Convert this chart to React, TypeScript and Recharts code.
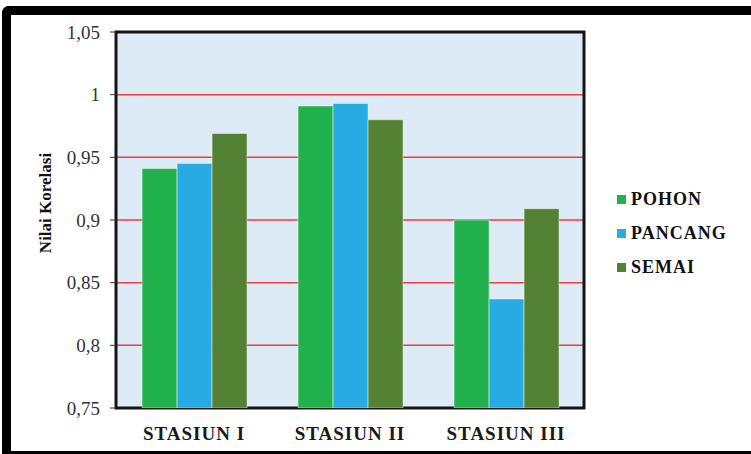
import React from 'react';
import { BarChart, Bar, XAxis, YAxis, CartesianGrid, Legend, ReferenceArea } from 'recharts';

const categories = ['STASIUN I', 'STASIUN II', 'STASIUN III'];
const pohon = [0.941, 0.991, 0.9];
const pancang = [0.945, 0.993, 0.837];
const semai = [0.969, 0.98, 0.909];
const yTicks = [0.75, 0.8, 0.85, 0.9, 0.95, 1, 1.05];
const seriesNames = ['POHON', 'PANCANG', 'SEMAI'];
const seriesColors = ['#21B14D', '#27ABE2', '#548235'];

const data = categories.map((c, i) => ({ name: c, POHON: pohon[i], PANCANG: pancang[i], SEMAI: semai[i] }));

const fmt = (v: number) => String(v).replace('.', ',');

const XTick = (props: any) => {
  const { x, y, payload } = props;
  return (
    <text x={x} y={y + 24} textAnchor="middle" fontFamily="'Liberation Serif', serif" fontWeight="bold" fontSize={19} letterSpacing={1} fill="#1a1a1a">
      {payload.value}
    </text>
  );
};

const LegendContent = () => (
  <div style={{ fontFamily: "'Liberation Serif', serif", fontWeight: 'bold', fontSize: 18, letterSpacing: 1, color: '#111' }}>
    {seriesNames.map((n, i) => (
      <div key={n} style={{ display: 'flex', alignItems: 'center', height: 34 }}>
        <span style={{ display: 'inline-block', width: 9, height: 9, background: seriesColors[i], marginRight: 5 }} />
        <span>{n}</span>
      </div>
    ))}
  </div>
);

export default function App() {
  return (
    <div style={{ position: 'absolute', left: 0, top: 0, width: 751, height: 454, background: '#fff', overflow: 'hidden' }}>
      <div style={{ position: 'absolute', left: 2, top: 6, width: 800, height: 448, boxSizing: 'border-box', borderTop: '9px solid #000', borderLeft: '9px solid #000', borderBottom: '3px solid #000', borderTopLeftRadius: 7 }} />
      <div style={{ position: 'absolute', left: 0, top: 0 }}>
        <BarChart width={751} height={454} data={data} margin={{ top: 32, right: 167, bottom: 16, left: 20 }} barCategoryGap="16.7%" barGap={0}>
          <CartesianGrid vertical={false} stroke="#EE3B3B" strokeWidth={1.5} fill="#DDEBF7" fillOpacity={1} />
          <XAxis dataKey="name" height={30} axisLine={false} tickLine={false} tick={<XTick />} interval={0} />
          <YAxis width={96} domain={[0.75, 1.05]} ticks={yTicks} tickFormatter={fmt} axisLine={false} tickSize={6} tickMargin={10} tickLine={{ stroke: '#333' }} tick={{ fontFamily: "'Liberation Serif', serif", fontSize: 19, fill: '#333' }} interval={0} allowDataOverflow
            label={(p: any) => (
              <text x={45} y={203} transform="rotate(-90 45 203)" textAnchor="middle" dominantBaseline="central" fontFamily="'Liberation Serif', serif" fontWeight="bold" fontSize={17} fill="#111">Nilai Korelasi</text>
            )} />
          {seriesNames.map((n, i) => (
            <Bar key={n} dataKey={n} fill={seriesColors[i]} stroke="rgba(255,255,255,0.45)" strokeWidth={1} isAnimationActive={false} />
          ))}
          <ReferenceArea y1={0.75} y2={1.05} fill="none" stroke="#151515" strokeWidth={3} ifOverflow="visible" />
          <Legend align="center" verticalAlign="middle" layout="horizontal" wrapperStyle={{ left: 617, top: 182, width: 134 }} content={<LegendContent />} />
        </BarChart>
      </div>
    </div>
  );
}
